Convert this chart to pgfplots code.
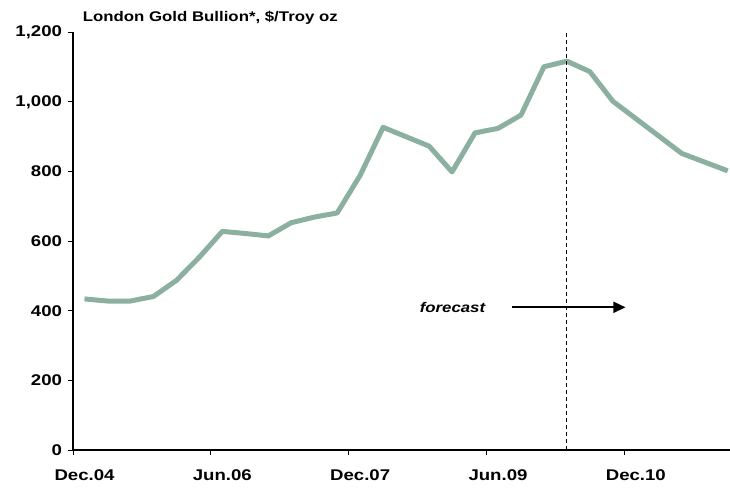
\documentclass[border=0pt]{standalone}
\usepackage{pgfplots}
\pgfplotsset{compat=1.18}
\usepackage{fontspec}
\setmainfont{Liberation Sans}[FakeStretch=1.2]
\usetikzlibrary{arrows.meta}
\definecolor{goldline}{RGB}{140,176,160}
\begin{document}
\begin{tikzpicture}
\useasboundingbox (0,0) rectangle (730pt,488pt);
\begin{axis}[
  at={(73pt,38pt)}, anchor=south west,
  scale only axis, width=657pt, height=417.7pt,
  xmin=0, xmax=28.6, ymin=0, ymax=1200,
  axis lines=left, axis line style={-, line width=1.2pt},
  xtick={0,6,12,18,24},
  xticklabels={Dec.04,Jun.06,Dec.07,Jun.09,Dec.10},
  xticklabel style={xshift=11.5pt, yshift=-11pt},
  yticklabel style={xshift=-2.5pt},
  ytick={0,200,...,1200},
  tick align=outside, major tick length=5pt,
  tick style={black, line width=1pt},
  ticklabel style={font=\fontsize{15.5}{18}\selectfont\bfseries},
  /pgf/number format/1000 sep={,},
  /pgf/number format/assume math mode=true,
  clip=false,
]
\addplot[goldline, line width=5pt, line join=round] coordinates {
(0.5,434) (1.5,428) (2.5,428) (3.5,441) (4.5,487) (5.5,554) (6.5,628)
(7.5,622) (8.5,615) (9.5,653) (10.5,669) (11.5,681) (12.5,789) (13.5,927)
(14.5,900) (15.5,873) (16.5,799) (17.5,911) (18.5,924) (19.5,962) (20.5,1101)
(21.5,1117) (22.5,1087) (23.5,1002) (24.5,952) (25.5,902) (26.5,852)
(27.5,827) (28.5,802)
};
\draw[dash pattern=on 4pt off 3pt, line width=1pt] (axis cs:21.5,0) -- (axis cs:21.5,1200);
\draw[line width=1.6pt, -{Triangle[length=12pt,width=11pt]}] (axis cs:19.13,410) -- (axis cs:24.05,410);
\node[font=\fontsize{14}{16}\selectfont\bfseries\itshape, anchor=east, inner sep=0pt] at (axis cs:17.95,410) {forecast};
\end{axis}
\node[anchor=base west, inner sep=0pt, font=\fontsize{14}{16}\selectfont\bfseries] at (82.7pt,466.3pt) {London Gold Bullion*, \$/Troy oz};
\end{tikzpicture}
\end{document}
